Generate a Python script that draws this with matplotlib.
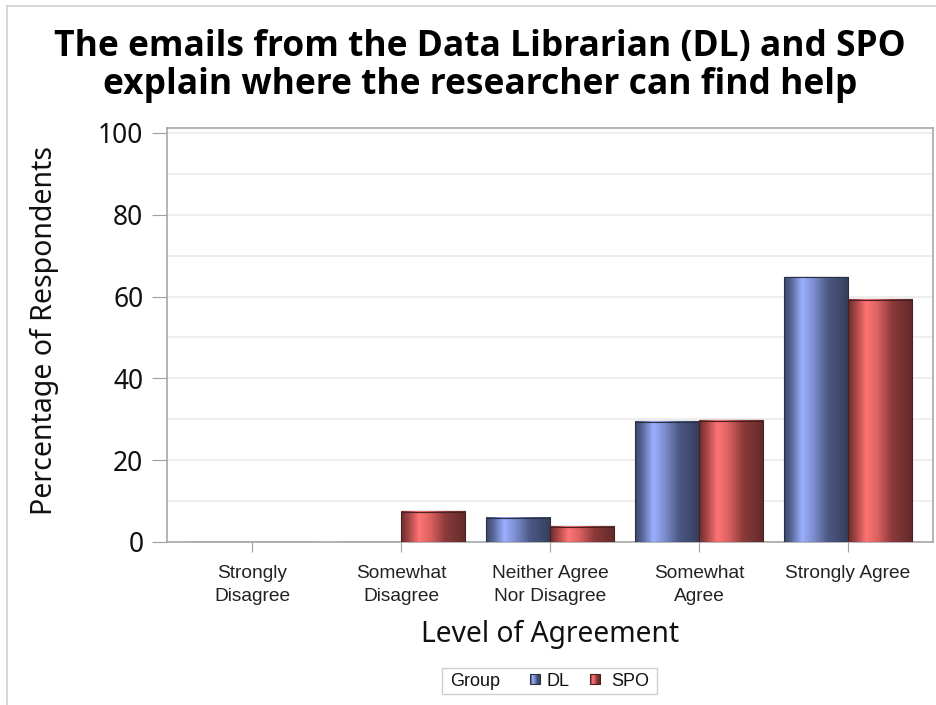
import numpy as np
import matplotlib
matplotlib.use("Agg")
import matplotlib.pyplot as plt
from matplotlib.colors import LinearSegmentedColormap
from matplotlib.patches import Rectangle
from matplotlib.transforms import Affine2D
from matplotlib import font_manager as fm

categories = ["Strongly\nDisagree", "Somewhat\nDisagree", "Neither Agree\nNor Disagree",
              "Somewhat\nAgree", "Strongly Agree"]
dl_values = [0.0, 0.0, 5.88, 29.41, 64.71]
spo_values = [0.0, 7.41, 3.70, 29.63, 59.26]
groups = ["DL", "SPO"]
yticks = [0, 20, 40, 60, 80, 100]

plt.rcParams['font.family'] = ['Liberation Sans', 'DejaVu Sans']
NOTO = ['Noto Sans', 'DejaVu Sans']

# pick a bold humanist font for the title if available
bold_fams = {f.name for f in fm.fontManager.ttflist if f.weight in (700, 'bold')}
TITLE_FAM = ['Noto Sans'] if 'Noto Sans' in bold_fams else (['Open Sans'] if 'Open Sans' in bold_fams else ['DejaVu Sans'])

W, H = 936, 705
fig = plt.figure(figsize=(W/100, H/100), dpi=100)
ax = fig.add_axes([167/W, 1-542/H, (933-167)/W, (542-128)/H])

blue_cmap = LinearSegmentedColormap.from_list("blue", [
    (0.0, "#3a4566"), (0.12, "#5b6a9c"), (0.28, "#9bb0ff"), (0.45, "#7e8fd0"),
    (0.68, "#4c5984"), (1.0, "#343d5a")])
red_cmap = LinearSegmentedColormap.from_list("red", [
    (0.0, "#6a2d2d"), (0.12, "#a84646"), (0.28, "#ff7474"), (0.45, "#dc6262"),
    (0.68, "#8c3a3a"), (1.0, "#612a2a")])

x = np.arange(len(categories))
w = 0.43
grad = np.linspace(0, 1, 256).reshape(1, -1)

def draw_bars(xs, vals, cmap, edge):
    bars = ax.bar(xs, vals, w, facecolor="none", edgecolor=edge, linewidth=0.8, zorder=4)
    for b in bars:
        h = b.get_height()
        if h <= 0:
            continue
        x0 = b.get_x()
        ax.add_patch(Rectangle((x0 + 0.008, 0), w, h + 0.35, facecolor="#00000018",
                               edgecolor="none", zorder=2))
        ax.imshow(grad, cmap=cmap, aspect="auto", extent=(x0, x0 + w, 0, h),
                  zorder=3, interpolation="bilinear")
    return bars

draw_bars(x - w/2, dl_values, blue_cmap, "#2a3147")
draw_bars(x + w/2, spo_values, red_cmap, "#4a2020")

ax.set_xlim(-0.57, 4.57)
ax.set_ylim(0, 101.2)
ax.set_yticks(yticks)
ax.set_yticks(np.arange(10, 100, 20), minor=True)
ax.grid(axis="y", which="both", color="#ebebeb", linewidth=1.2, zorder=0)
ax.set_axisbelow(True)
ax.set_xticks(x)
ax.set_xticklabels(categories, fontsize=13.8, color="#222222", linespacing=1.45)
ax.tick_params(axis="y", which="major", length=11, color="#a0a0a0", labelsize=19,
               labelcolor="#111111", pad=6)
for lab in ax.get_yticklabels():
    lab.set_family(NOTO)
ax.tick_params(axis="y", which="minor", length=0)
ax.tick_params(axis="x", length=7, color="#a0a0a0", pad=9.5)
for s in ax.spines.values():
    s.set_color("#a8a8a8")
    s.set_linewidth(1.2)

ax.set_ylabel("Percentage of Respondents", fontsize=20.5, color="#111111", family=NOTO,
              va="center")
ax.yaxis.set_label_coords((44 - 167)/(933-167), 0.51)
ax.set_xlabel("Level of Agreement", fontsize=20.3, color="#111111", family=NOTO)
ax.xaxis.set_label_coords(0.5, -(634-542)/(542-128))
ax.xaxis.label.set_va("center")

fig.text(480/W, 1-66/H, "The emails from the Data Librarian (DL) and SPO\nexplain where the researcher can find help",
         ha="center", va="center", fontsize=25.5, fontweight="bold", color="#000000",
         linespacing=1.1, family=TITLE_FAM)

# figure border (left / top)
fig.add_artist(plt.Line2D([7/W, 7/W], [0, 1-6/H], color="#d0d0d0", lw=1.2))
fig.add_artist(plt.Line2D([7/W, 1], [1-6/H, 1-6/H], color="#d0d0d0", lw=1.2))

# legend drawn manually in pixel coordinates (origin top-left)
pix = Affine2D().scale(1/W, -1/H).translate(0, 1) + fig.transFigure
fig.add_artist(Rectangle((442, 668), 215, 26, facecolor="white", edgecolor="#cfcfcf",
                         lw=1.0, transform=pix))
fig.text(450/W, 1-681.5/H, "Group", ha="left", va="center", fontsize=13, color="#111111")

def legend_swatch(x0, y0, s, cmap, edge):
    n = 10
    for i in range(n):
        fig.add_artist(Rectangle((x0 + s*i/n, y0), s/n + 0.05, s,
                                 facecolor=cmap((i+0.5)/n), edgecolor="none", transform=pix))
    fig.add_artist(Rectangle((x0, y0), s, s, facecolor="none", edgecolor=edge,
                             lw=0.8, transform=pix))

legend_swatch(530, 674, 10, blue_cmap, "#2a3147")
fig.text(547/W, 1-681.5/H, groups[0], ha="left", va="center", fontsize=13, color="#111111")
legend_swatch(590, 674, 10, red_cmap, "#4a2020")
fig.text(611/W, 1-681.5/H, groups[1], ha="left", va="center", fontsize=13, color="#111111")

fig.savefig("out.png", dpi=100, facecolor="white")
